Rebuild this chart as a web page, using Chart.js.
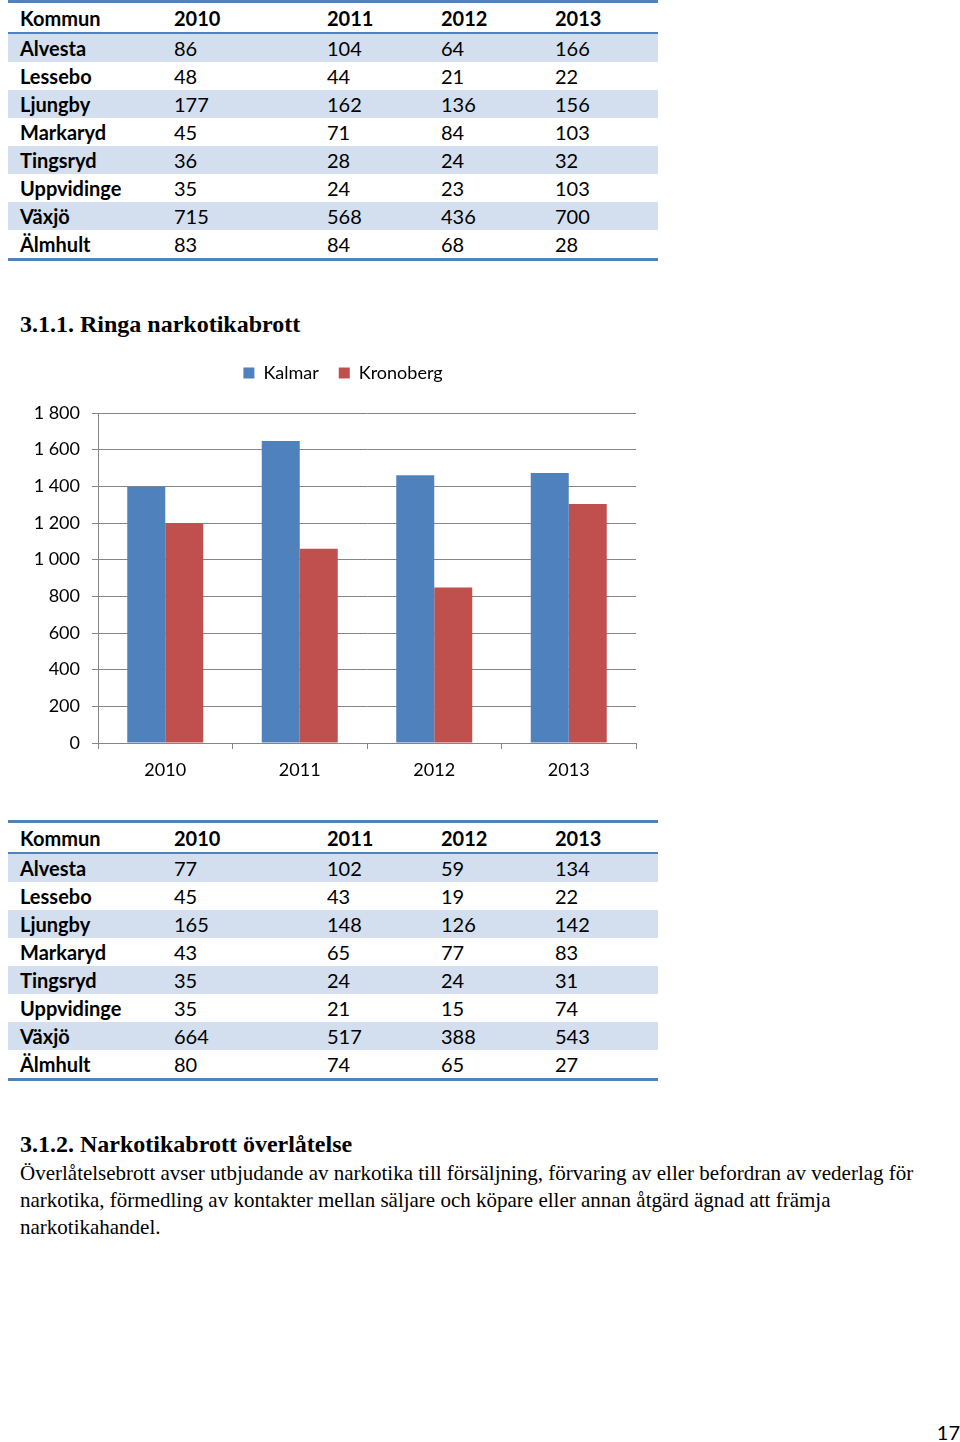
<!DOCTYPE html>
<html>
<head>
  <title>Ringa narkotikabrott</title>
  <script src="https://cdn.jsdelivr.net/npm/chart.js"></script>
  <style>
    body { margin: 0; background: #fff; width: 960px; height: 1442px; position: relative; font-family: Lato, "Open Sans", sans-serif; color: #000; }
    table { position: absolute; left: 8px; border-collapse: collapse; width: 650px; font-size: 20px; }
    td { padding: 0 0 0 12px; height: 28px; line-height: 28px; white-space: nowrap; }
    thead td { font-weight: bold; height: 29px; border-top: 3px solid #4F81BD; border-bottom: 2px solid #4F81BD; }
    tbody tr:nth-child(odd) { background: #D3DFEE; }
    tbody tr:last-child td { border-bottom: 3px solid #4F81BD; }
    tbody td:first-child { font-weight: bold; }
    h2 { position: absolute; left: 20px; margin: 0; font-family: "Liberation Serif", serif; font-size: 24px; font-weight: bold; line-height: 28px; }
    p { position: absolute; left: 20px; margin: 0; font-family: "Liberation Serif", serif; font-size: 21px; line-height: 27px; width: 930px; white-space: nowrap; }
    #chart-box { position: absolute; left: 0; top: 328px; width: 660px; height: 462px; }
    #page { position: absolute; right: 0; top: 1420px; font-size: 20px; }
  </style>
</head>
<body>
  <table id="t1"></table>
  <h2 style="top:310px">3.1.1. Ringa narkotikabrott</h2>
  <div id="chart-box"><canvas id="data-chart"></canvas></div>
  <table id="t2" style="top:820px"></table>
  <h2 style="top:1130px">3.1.2. Narkotikabrott överlåtelse</h2>
  <p style="top:1160px">Överlåtelsebrott avser utbjudande av narkotika till försäljning, förvaring av eller befordran av vederlag för<br>narkotika, förmedling av kontakter mellan säljare och köpare eller annan åtgärd ägnad att främja<br>narkotikahandel.</p>
  <div id="page">17</div>
  <script>
    // table data
    const kommuner = ['Alvesta', 'Lessebo', 'Ljungby', 'Markaryd', 'Tingsryd', 'Uppvidinge', 'Växjö', 'Älmhult'];
    const years = ['2010', '2011', '2012', '2013'];
    const table1 = [
      [86, 104, 64, 166],
      [48, 44, 21, 22],
      [177, 162, 136, 156],
      [45, 71, 84, 103],
      [36, 28, 24, 32],
      [35, 24, 23, 103],
      [715, 568, 436, 700],
      [83, 84, 68, 28],
    ];
    const table2 = [
      [77, 102, 59, 134],
      [45, 43, 19, 22],
      [165, 148, 126, 142],
      [43, 65, 77, 83],
      [35, 24, 24, 31],
      [35, 21, 15, 74],
      [664, 517, 388, 543],
      [80, 74, 65, 27],
    ];

    // chart data
    const kalmar = [1398, 1647, 1460, 1473];
    const kronoberg = [1200, 1060, 848, 1304];
    const yTicks = [0, 200, 400, 600, 800, 1000, 1200, 1400, 1600, 1800];

    function fillTable(id, rows) {
      const widths = [142, 141, 102, 102, 103];
      let html = '<thead><tr><td style="width:' + widths[0] + 'px">Kommun</td>';
      years.forEach((y, i) => { html += '<td style="width:' + widths[i + 1] + 'px">' + y + '</td>'; });
      html += '</tr></thead><tbody>';
      rows.forEach((r, i) => {
        html += '<tr><td>' + kommuner[i] + '</td>' + r.map(v => '<td>' + v + '</td>').join('') + '</tr>';
      });
      html += '</tbody>';
      document.getElementById(id).innerHTML = html;
    }
    fillTable('t1', table1);
    fillTable('t2', table2);

    const fmt = v => v >= 1000 ? Math.floor(v / 1000) + ' ' + String(v % 1000).padStart(3, '0') : String(v);

    // extra space under the legend, and centre it a bit further right
    const legendTweak = {
      id: 'legendTweak',
      beforeInit(chart) {
        const fit = chart.legend.fit;
        chart.legend.fit = function () { fit.call(this); this.height += 21; };
      },
      afterLayout(chart) {
        chart.legend.left += 50;
      },
    };

    const ctx = document.getElementById('data-chart').getContext('2d');
    new Chart(ctx, {
      type: 'bar',
      data: {
        labels: years,
        datasets: [
          { label: 'Kalmar', data: kalmar, backgroundColor: '#4F81BD' },
          { label: 'Kronoberg', data: kronoberg, backgroundColor: '#C0504D' },
        ],
      },
      plugins: [legendTweak],
      options: {
        responsive: true,
        maintainAspectRatio: false,
        animation: false,
        layout: { padding: { top: 16, right: 24, left: 0, bottom: 0 } },
        datasets: { bar: { categoryPercentage: 0.565, barPercentage: 1.0 } },
        plugins: {
          tooltip: { enabled: false },
          legend: {
            position: 'top',
            labels: { boxWidth: 11, boxHeight: 11, padding: 20, color: '#000', font: { family: 'Lato', size: 18 } },
          },
        },
        scales: {
          x: {
            grid: { display: true, drawOnChartArea: false, offset: true, tickLength: 6, color: '#868686' },
            border: { color: '#868686', width: 1 },
            ticks: { color: '#000', padding: 10, font: { family: 'Lato', size: 18 } },
            afterFit: s => { s.height = 47; },
          },
          y: {
            min: 0,
            max: 1800,
            afterBuildTicks: s => { s.ticks = yTicks.map(v => ({ value: v })); },
            grid: { color: '#868686', tickLength: 6 },
            border: { color: '#868686', width: 1 },
            ticks: { color: '#000', padding: 12, font: { family: 'Lato', size: 18 }, callback: v => fmt(v) },
            afterFit: s => { s.width = 98; },
          },
        },
      },
    });
  </script>
</body>
</html>
